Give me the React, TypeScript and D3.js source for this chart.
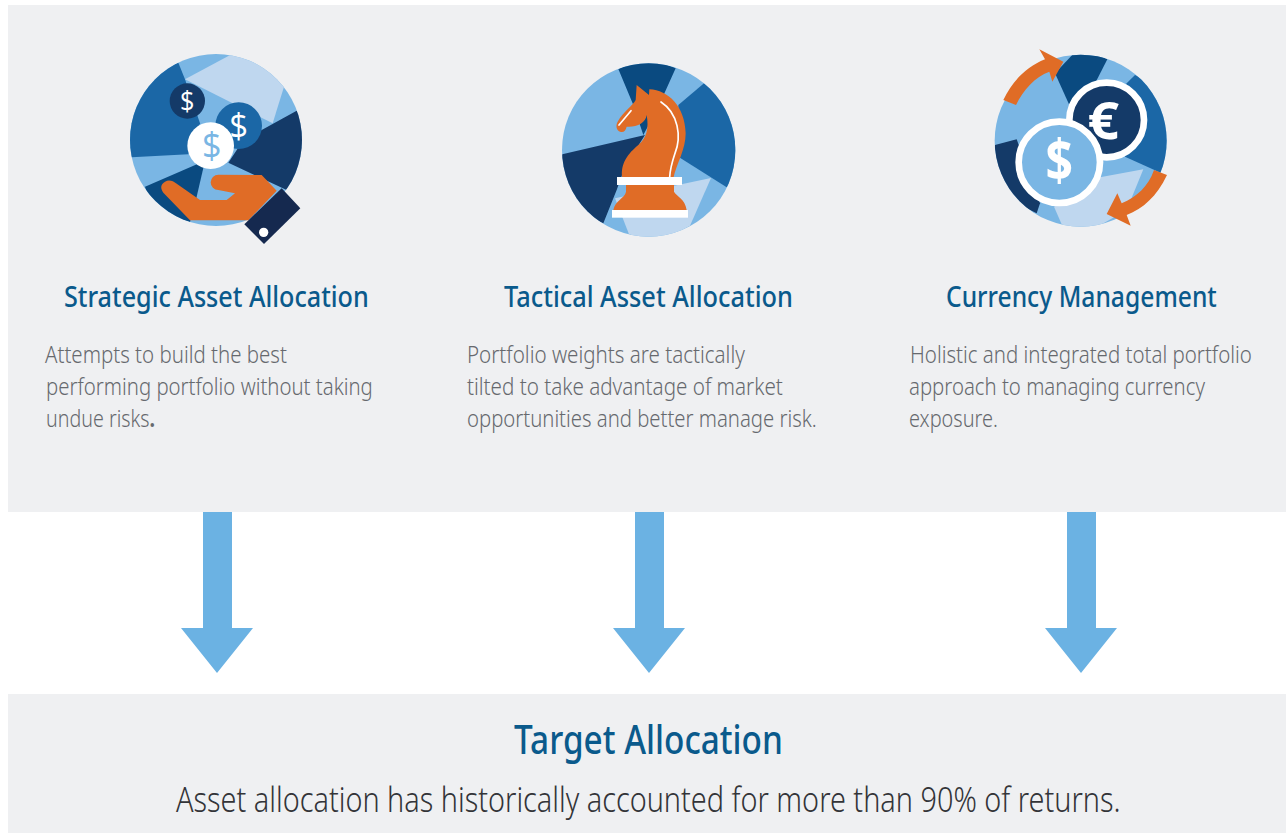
import React, { useLayoutEffect, useRef } from 'react'
import * as d3 from 'd3'

const WIDTH = 1286
const HEIGHT = 833

// colours
const panelGrey = '#eff0f2'
const sky = '#7ab6e4'
const pale = '#bfd7ef'
const mid = '#1b67a6'
const deep = '#0a4a80'
const navy = '#143a68'
const cuffNavy = '#15294f'
const orange = '#e06c26'
const arrowBlue = '#6bb2e3'
const headingBlue = '#0a5a8c'
const bodyGrey = '#66696e'
const subGrey = '#333438'

const FONT = '"Noto Sans", "Open Sans", sans-serif'
const GLYPH_FONT = '"Open Sans", "Noto Sans", sans-serif'

const columnTitles = ['Strategic Asset Allocation', 'Tactical Asset Allocation', 'Currency Management']
const titleSpans = [[64, 369], [504, 793], [946, 1217]]

const columnLines = [
  ['Attempts to build the best', 'performing portfolio without taking', 'undue risks'],
  ['Portfolio weights are tactically', 'tilted to take advantage of market', 'opportunities and better manage risk.'],
  ['Holistic and integrated total portfolio', 'approach to managing currency', 'exposure.'],
]
const lineSpans = [
  [[45, 287], [46, 373], [46, 155]],
  [[467, 745], [467, 783], [467, 817]],
  [[910, 1252], [909, 1205], [909, 998]],
]

const targetTitle = 'Target Allocation'
const targetText = 'Asset allocation has historically accounted for more than 90% of returns.'

const arrowCentres = [217.5, 649.5, 1081.5]

// icon shards in 3x crop units
type Shard = { fill: string; pts: [number, number][] }

const shardsStrategic: Shard[] = [
  { fill: mid, pts: [[205, 68], [225, 118], [270, 250], [235, 343], [65, 352], [30, 300], [60, 120]] },
  { fill: pale, pts: [[225, 118], [362, 44], [450, 40], [522, 140], [488, 250]] },
  { fill: navy, pts: [[560, 212], [620, 300], [560, 470], [530, 450], [355, 368], [400, 300]] },
  { fill: deep, pts: [[285, 362], [260, 470], [240, 546], [130, 520], [105, 440]] },
]
const shardsTactical: Shard[] = [
  { fill: deep, pts: [[220, 57], [305, 20], [392, 55], [340, 170], [295, 255], [265, 165]] },
  { fill: mid, pts: [[477, 100], [570, 150], [600, 250], [570, 400], [545, 412], [400, 320], [400, 165]] },
  { fill: navy, pts: [[52, 313], [300, 255], [240, 350], [215, 420], [175, 520], [90, 480], [30, 350]] },
  { fill: pale, pts: [[210, 445], [498, 384], [435, 527], [340, 580], [252, 553]] },
]
const shardsCurrency: Shard[] = [
  { fill: deep, pts: [[225, 100], [300, 20], [382, 58], [340, 140], [268, 195]] },
  { fill: mid, pts: [[465, 105], [560, 150], [600, 300], [545, 400], [435, 350], [440, 130]] },
  { fill: navy, pts: [[45, 315], [110, 298], [180, 490], [170, 520], [90, 480], [30, 380]] },
  { fill: pale, pts: [[222, 500], [360, 412], [490, 388], [440, 510], [300, 590], [245, 553]] },
]

const icons = [
  { left: 110, top: 40, cx: 318, cy: 300, r: 258, shards: shardsStrategic },
  { left: 545, top: 50, cx: 311, cy: 300, r: 260, shards: shardsTactical },
  { left: 980, top: 40, cx: 302, cy: 302, r: 258, shards: shardsCurrency },
]

const crop = d3.scaleLinear().domain([0, 630]).range([0, 210])
const shardPath = d3.line<[number, number]>().x((d) => d[0]).y((d) => d[1])

function Glyph({ x, y, size, fill, weight = 500, squeeze = 1, children }: any) {
  return (
    <text
      transform={`translate(${x},${y}) scale(${squeeze},1)`}
      fontFamily={GLYPH_FONT}
      fontSize={size}
      fontWeight={weight}
      fill={fill}
      textAnchor="middle"
    >
      {children}
    </text>
  )
}

function HandIcon() {
  return (
    <g>
      <circle cx={232} cy={183} r={53} fill={navy} />
      <Glyph x={232} y={212} size={80} fill="#fff" squeeze={0.95}>$</Glyph>
      <circle cx={386} cy={257} r={70} fill={mid} />
      <Glyph x={386} y={295} size={104} fill="#fff" squeeze={0.95}>$</Glyph>
      <circle cx={302} cy={317} r={70} fill="#fff" />
      <Glyph x={305} y={355} size={108} fill={sky} squeeze={0.95}>$</Glyph>
      <path
        fill={orange}
        d="M165 425 C178 418 190 424 198 430 L270 480 L350 480 L375 460 L325 450 A23 23 0 0 1 325 404 L455 405 L500 452 L415 541 L240 541 L160 458 C150 445 152 432 165 425 Z"
      />
      <path fill={cuffNavy} d="M515 445 L571 505 L462 612 L403 553 Z" />
      <circle cx={461} cy={577} r={14} fill="#fff" />
    </g>
  )
}

function KnightIcon() {
  return (
    <g>
      <path
        fill={orange}
        d="M275 105 L312 135 L313 118 C370 120 420 170 422 250 C422 300 395 340 385 385 L232 385 C225 340 250 310 280 285 C305 265 312 235 305 195 C302 220 275 232 245 230 Q240 250 225 245 C213 240 212 225 218 215 C235 185 265 165 272 150 Z"
      />
      <path
        fill={orange}
        d="M243 404 L387 404 L387 425 C395 440 420 445 425 480 L205 480 C210 450 240 445 243 425 Z"
      />
      <rect x={216} y={381} width={195} height={24} fill="#fff" />
      <rect x={201} y={480} width={228} height={23} fill="#fff" />
      <path
        fill="none"
        stroke="#fff"
        strokeWidth={5}
        strokeLinecap="round"
        d="M348 156 C400 190 410 260 390 310 C380 340 375 360 374 382"
      />
      <path fill="none" stroke="#fff" strokeWidth={5} strokeLinecap="round" d="M222 225 L258 182" />
    </g>
  )
}

function CoinsIcon() {
  return (
    <g>
      <circle cx={380} cy={240} r={112} fill={navy} stroke="#fff" strokeWidth={20} />
      <Glyph x={370} y={297} size={158} fill="#fff" weight={700} squeeze={1.05}>€</Glyph>
      <circle cx={238} cy={367} r={122} fill={sky} stroke="#fff" strokeWidth={20} />
      <Glyph x={238} y={424} size={170} fill="#fff" weight={700} squeeze={0.85}>$</Glyph>
      <path
        fill={orange}
        d="M70 180 C100 120 140 80 195 58 L178 28 L250 65 L217 125 L208 95 C165 110 130 150 108 195 Z"
      />
      <path
        fill={orange}
        d="M561 405 C530 470 490 505 440 525 L452 557 L380 522 L412 460 L425 490 C470 470 505 440 522 390 Z"
      />
    </g>
  )
}

const iconArt = [HandIcon, KnightIcon, CoinsIcon]

// one line of copy, squeezed to the width it has in the picture
function FitText({ x0, x1, y, size, weight, fill, children }: any) {
  return (
    <text
      data-x0={x0}
      data-x1={x1}
      data-y={y}
      transform={`translate(${x0},${y})`}
      fontFamily={FONT}
      fontSize={size}
      fontWeight={weight}
      fill={fill}
    >
      {children}
    </text>
  )
}

export default function App() {
  const svgRef = useRef<SVGSVGElement>(null)
  const unit = crop(1)

  useLayoutEffect(() => {
    d3.select(svgRef.current)
      .selectAll<SVGTextElement, unknown>('text[data-x0]')
      .attr('transform', function () {
        const x0 = +this.dataset.x0!
        const x1 = +this.dataset.x1!
        return `translate(${x0},${this.dataset.y}) scale(${(x1 - x0) / this.getComputedTextLength()},1)`
      })
  }, [])

  return (
    <svg
      ref={svgRef}
      width={WIDTH}
      height={HEIGHT}
      viewBox={`0 0 ${WIDTH} ${HEIGHT}`}
      style={{ position: 'absolute', left: 0, top: 0, display: 'block', background: '#fff' }}
    >
      <rect x={8} y={5} width={WIDTH - 8} height={507} fill={panelGrey} />
      <rect x={8} y={694} width={WIDTH - 8} height={HEIGHT - 694} fill={panelGrey} />

      {icons.map((icon, i) => {
        const Art = iconArt[i]
        return (
          <g key={i} transform={`translate(${icon.left},${icon.top}) scale(${unit})`}>
            <clipPath id={`disc-${i}`}>
              <circle cx={icon.cx} cy={icon.cy} r={icon.r} />
            </clipPath>
            <circle cx={icon.cx} cy={icon.cy} r={icon.r} fill={sky} />
            <g clipPath={`url(#disc-${i})`}>
              {icon.shards.map((s, j) => (
                <path key={j} d={shardPath(s.pts) + 'Z'} fill={s.fill} />
              ))}
            </g>
            <Art />
          </g>
        )
      })}

      {columnTitles.map((t, i) => (
        <FitText key={t} x0={titleSpans[i][0]} x1={titleSpans[i][1]} y={307} size={29} weight={500} fill={headingBlue}>
          {t}
        </FitText>
      ))}

      {columnLines.map((lines, i) =>
        lines.map((line, j) => (
          <FitText
            key={line}
            x0={lineSpans[i][j][0]}
            x1={lineSpans[i][j][1]}
            y={363 + j * 32}
            size={24}
            weight={300}
            fill={bodyGrey}
          >
            {line}
            {line === 'undue risks' && <tspan fontWeight={700}>.</tspan>}
          </FitText>
        ))
      )}

      {arrowCentres.map((c) => (
        <path
          key={c}
          fill={arrowBlue}
          d={
            d3.line()([
              [c - 14.5, 512],
              [c + 14.5, 512],
              [c + 14.5, 628],
              [c + 35.5, 628],
              [c - 0.5, 673],
              [c - 36.5, 628],
              [c - 14.5, 628],
            ]) + 'Z'
          }
        />
      ))}

      <FitText x0={514} x1={783} y={754} size={40} weight={500} fill={headingBlue}>
        {targetTitle}
      </FitText>
      <FitText x0={176} x1={1121} y={812} size={34} weight={300} fill={subGrey}>
        {targetText}
      </FitText>
    </svg>
  )
}
